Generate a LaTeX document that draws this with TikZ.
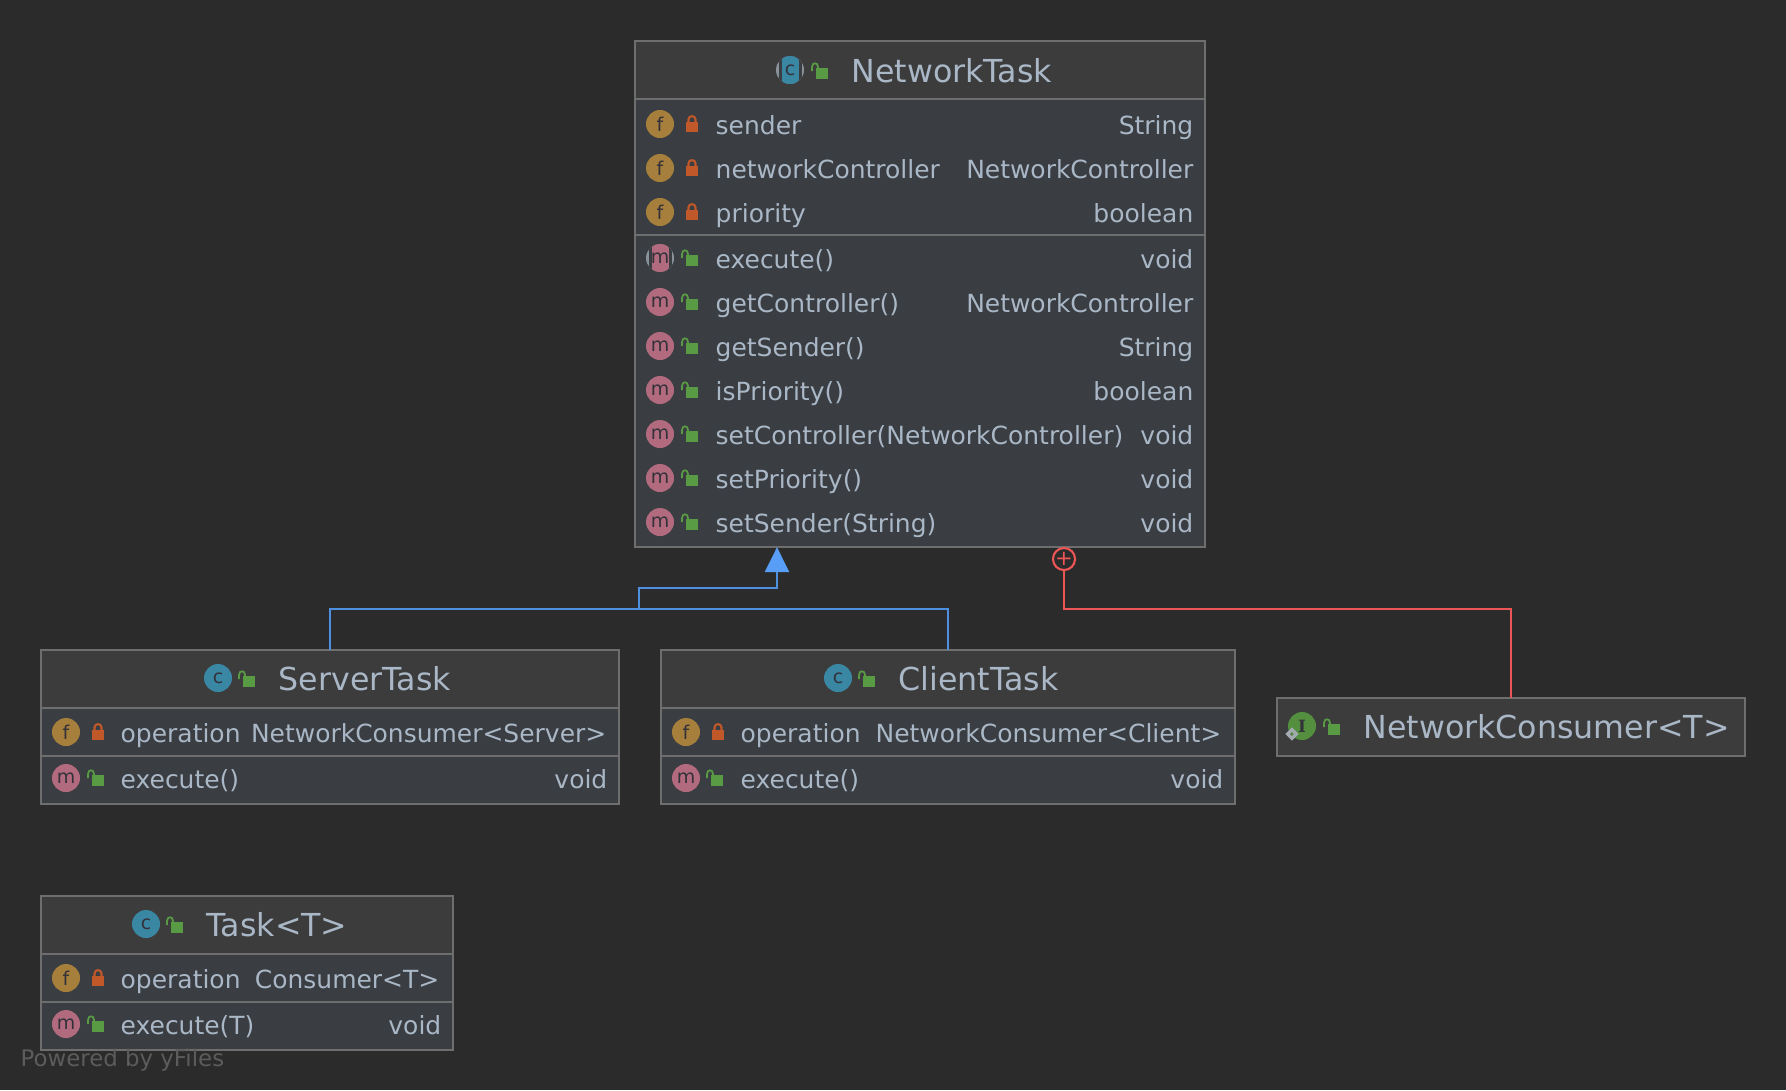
\documentclass[tikz,border=0pt]{standalone}
\usepackage{fontspec}
\setmainfont{DejaVu Sans}
\newfontfamily\iconserif{DejaVu Serif}
\usetikzlibrary{arrows.meta,shapes.geometric}
\definecolor{canvasbg}{HTML}{2B2B2B}
\definecolor{headbg}{HTML}{3C3C3C}
\definecolor{rowbg}{HTML}{3A3D41}
\definecolor{boxline}{HTML}{6E6E6E}
\definecolor{labeltext}{HTML}{A9B7C6}
\definecolor{creditgrey}{HTML}{5C5C5C}
\definecolor{classteal}{HTML}{3A87A3}
\definecolor{fieldgold}{HTML}{A67F3C}
\definecolor{methodrose}{HTML}{B26B7E}
\definecolor{ifacegreen}{HTML}{548F3F}
\definecolor{openlock}{HTML}{599B44}
\definecolor{shutlock}{HTML}{C0582A}
\definecolor{sidegrey}{HTML}{8A9299}
\definecolor{markgrey}{HTML}{A4ABB0}
\definecolor{icontext}{HTML}{33323A}
\definecolor{inheritblue}{HTML}{4F8FE0}
\definecolor{tipblue}{HTML}{589DF6}
\definecolor{nestred}{HTML}{EE5555}
\tikzset{
    section/.style={draw=boxline, line width=0.6pt, fill=rowbg, rectangle, inner sep=0pt, outer sep=0pt},
    headsection/.style={section, fill=headbg},
    icon/.style={circle, inner sep=0pt, minimum size=0.28cm, text=icontext, font=\fontsize{5.4}{6}\selectfont},
    classicon/.style={icon, fill=classteal},
    fieldicon/.style={icon, fill=fieldgold},
    methodicon/.style={icon, fill=methodrose},
    abstracticon/.style={icon, fill=sidegrey, path picture={
            \fill[rowbg] ([xshift=-0.115cm]path picture bounding box.north) rectangle ([xshift=0.115cm]path picture bounding box.south);
            \fill[#1] ([xshift=-0.085cm]path picture bounding box.north) rectangle ([xshift=0.085cm]path picture bounding box.south);
        }},
    titletext/.style={anchor=base west, inner sep=0pt, text=labeltext, font=\fontsize{9}{10}\selectfont},
    rowtext/.style={anchor=base west, inner sep=0pt, text=labeltext, font=\fontsize{7.1}{9}\selectfont},
    rowtype/.style={rowtext, anchor=base east},
    inheritline/.style={draw=inheritblue, line width=0.6pt},
    nestline/.style={draw=nestred, line width=0.6pt},
    lockopen/.pic={
            \fill[openlock] (-6,-3) rectangle (6,8);
            \draw[openlock, line width=0.5pt] (-10,0) -- (-10,-4) .. controls (-10,-9) and (-4,-9) .. (-4,-4) -- (-4,-3);
        },
    lockshut/.pic={
            \fill[shutlock] (-6,-2) rectangle (6,8);
            \draw[shutlock, line width=0.6pt] (-3.5,-2) -- (-3.5,-4.5) .. controls (-3.5,-9) and (3.5,-9) .. (3.5,-4.5) -- (3.5,-2);
        },
}

\begin{document}
\begin{tikzpicture}[x=0.01cm, y=-0.01cm]
    \useasboundingbox[fill=canvasbg] (0,0) rectangle (1786,1090);

    % NetworkTask
    \node[headsection, minimum width=5.7cm, minimum height=0.58cm] (networktask) at (920,70) {};
    \node[section, minimum width=5.7cm, minimum height=1.36cm] (networktaskfields) at (920,167) {};
    \node[section, minimum width=5.7cm, minimum height=3.12cm] (networktaskmethods) at (920,391) {};
    \node[abstracticon=classteal] (networktaskicon) at (790,70) {c};
    \pic at (822,71) {lockopen};
    \node[titletext] (networktasktitle) at (851,82) {NetworkTask};

    \foreach \i/\y/\fname/\ftype in {1/124/sender/String, 2/168/networkController/NetworkController, 3/212/priority/boolean}{
            \node[fieldicon] (ntfieldicon\i) at (660,\y) {f};
            \pic at (692,\y) {lockshut};
            \node[rowtext] (ntfield\i) at (715,\y+10) {\fname};
            \node[rowtype] (ntfieldtype\i) at (1194,\y+10) {\ftype};
        }

    \node[abstracticon=methodrose] (ntmethodicon1) at (660,258) {m};
    \pic at (692,258) {lockopen};
    \node[rowtext] (ntmethod1) at (715,268) {execute()};
    \node[rowtype] (ntmethodtype1) at (1194,268) {void};

    % the plain methods
    \foreach \i/\y/\mname/\mtype in {2/302/getController()/NetworkController, 3/346/getSender()/String, 4/390/isPriority()/boolean, 5/434/setController(NetworkController)/void, 6/478/setPriority()/void, 7/522/setSender(String)/void}{
            \node[methodicon] (ntmethodicon\i) at (660,\y) {m};
            \pic at (692,\y) {lockopen};
            \node[rowtext] (ntmethod\i) at (715,\y+10) {\mname};
            \node[rowtype] (ntmethodtype\i) at (1194,\y+10) {\mtype};
        }

    % ServerTask
    \node[headsection, minimum width=5.78cm, minimum height=0.58cm] (servertask) at (330,679) {};
    \node[section, minimum width=5.78cm, minimum height=0.48cm] (servertaskfields) at (330,732) {};
    \node[section, minimum width=5.78cm, minimum height=0.48cm] (servertaskmethods) at (330,780) {};
    \node[classicon] (servertaskicon) at (218,678) {c};
    \pic at (249,679) {lockopen};
    \node[titletext] (servertasktitle) at (278,690) {ServerTask};
    \node[fieldicon] (stfieldicon) at (66,732) {f};
    \pic at (98,732) {lockshut};
    \node[rowtext] (stfield) at (120,742) {operation};
    \node[rowtype] (stfieldtype) at (607,742) {NetworkConsumer<Server>};
    \node[methodicon] (stmethodicon) at (66,778) {m};
    \pic at (98,778) {lockopen};
    \node[rowtext] (stmethod) at (120,788) {execute()};
    \node[rowtype] (stmethodtype) at (608,788) {void};

    % ClientTask
    \node[headsection, minimum width=5.74cm, minimum height=0.58cm] (clienttask) at (948,679) {};
    \node[section, minimum width=5.74cm, minimum height=0.48cm] (clienttaskfields) at (948,732) {};
    \node[section, minimum width=5.74cm, minimum height=0.48cm] (clienttaskmethods) at (948,780) {};
    \node[classicon] (clienttaskicon) at (838,678) {c};
    \pic at (869,679) {lockopen};
    \node[titletext] (clienttasktitle) at (898,690) {ClientTask};
    \node[fieldicon] (ctfieldicon) at (686,732) {f};
    \pic at (718,732) {lockshut};
    \node[rowtext] (ctfield) at (740,742) {operation};
    \node[rowtype] (ctfieldtype) at (1222,742) {NetworkConsumer<Client>};
    \node[methodicon] (ctmethodicon) at (686,778) {m};
    \pic at (717,778) {lockopen};
    \node[rowtext] (ctmethod) at (740,788) {execute()};
    \node[rowtype] (ctmethodtype) at (1224,788) {void};

    % NetworkConsumer
    \node[headsection, minimum width=4.68cm, minimum height=0.58cm] (networkconsumer) at (1511,727) {};
    \node[icon, fill=ifacegreen, font=\fontsize{4.8}{6}\selectfont\iconserif\bfseries] (networkconsumericon) at (1302,726) {I};
    \node[diamond, draw=markgrey, line width=0.9pt, inner sep=0pt, minimum size=0.1cm] (networkconsumermark) at (1292,734) {};
    \pic at (1334,727) {lockopen};
    \node[titletext] (networkconsumertitle) at (1363,738) {NetworkConsumer<T>};

    % Task
    \node[headsection, minimum width=4.12cm, minimum height=0.58cm] (task) at (247,925) {};
    \node[section, minimum width=4.12cm, minimum height=0.48cm] (taskfields) at (247,978) {};
    \node[section, minimum width=4.12cm, minimum height=0.48cm] (taskmethods) at (247,1026) {};
    \node[classicon] (taskicon) at (146,924) {c};
    \pic at (177,925) {lockopen};
    \node[titletext] (tasktitle) at (206,936) {Task<T>};
    \node[fieldicon] (tfieldicon) at (66,978) {f};
    \pic at (98,978) {lockshut};
    \node[rowtext] (tfield) at (120,988) {operation};
    \node[rowtype] (tfieldtype) at (440,988) {Consumer<T>};
    \node[methodicon] (tmethodicon) at (66,1024) {m};
    \pic at (98,1024) {lockopen};
    \node[rowtext] (tmethod) at (120,1034) {execute(T)};
    \node[rowtype] (tmethodtype) at (442,1034) {void};

    \node[rowtext, text=creditgrey, font=\fontsize{6.5}{8}\selectfont] (credit) at (20,1066) {Powered by yFiles};

    % inheritance lines
    \coordinate (bus) at (639,609);
    \coordinate (elbow) at (777,588);
    \draw[inheritline] (servertask.north) |- (bus) -| (clienttask.north);
    \draw[inheritline, line width=0.7pt, -{Triangle[length=0.25cm, width=0.24cm, color=tipblue]}] (bus) |- (elbow) -- (elbow |- networktaskmethods.south);

    % inner class line
    \node[circle, draw=nestred, line width=0.6pt, inner sep=0pt, outer sep=0pt, minimum size=0.2cm, text=nestred, font=\fontsize{6}{6}\selectfont] (nest) at (1064,559) {+};
    \coordinate (nestbend) at (1064,609);
    \draw[nestline] (nest) -- (nestbend) -| (networkconsumer.north);
\end{tikzpicture}
\end{document}
